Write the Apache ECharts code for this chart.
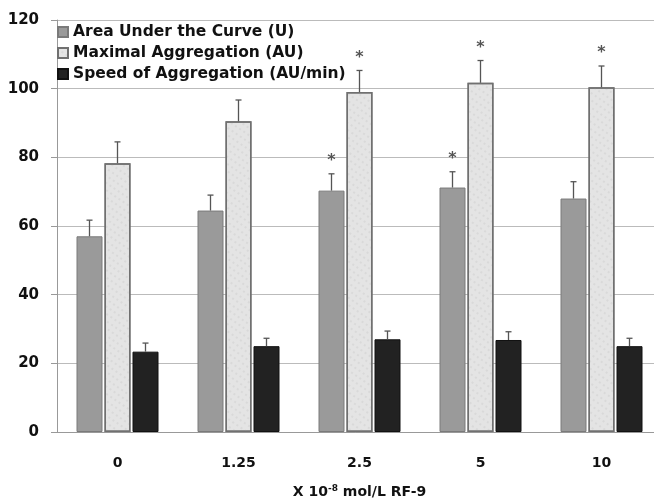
<!DOCTYPE html>
<html>
<head>
<meta charset="utf-8">
<script src="https://cdn.jsdelivr.net/npm/echarts@6/dist/echarts.min.js"></script>
<style>
  html, body { margin: 0; padding: 0; background: #fff; }
  #main { width: 654px; height: 500px; }
</style>
</head>
<body>
<div id="main"></div>
<script>
var categories = ['0', '1.25', '2.5', '5', '10'];
var seriesNames = ['Area Under the Curve (U)', 'Maximal Aggregation (AU)', 'Speed of Aggregation (AU/min)'];

var areaMean = [57, 64.5, 70.3, 71.2, 68];
var areaErr = [4.7, 4.5, 4.9, 4.6, 4.9];
var areaStar = [0, 0, 1, 1, 0];

var maxMean = [78.3, 90.5, 99, 101.7, 100.4];
var maxErr = [6.2, 6.2, 6.3, 6.5, 6.2];
var maxStar = [0, 0, 1, 1, 1];

var speedMean = [23.4, 25, 27, 26.8, 25];
var speedErr = [2.5, 2.3, 2.4, 2.4, 2.3];
var speedStar = [0, 0, 0, 0, 0];

var barW = 26;
var barGapPx = 2;
var FONT = 'DejaVu Sans';

function errData(mean, err, star) {
  return mean.map(function (m, i) { return [i, m, err[i], star[i]]; });
}

function errSeries(idx, mean, err, star) {
  return {
    type: 'custom',
    silent: true,
    z: 5,
    data: errData(mean, err, star),
    renderItem: function (params, api) {
      var ci = api.value(0);
      var m = api.value(1);
      var e = api.value(2);
      var s = api.value(3);
      var base = api.coord([ci, m]);
      var top = api.coord([ci, m + e]);
      var x = base[0] + (idx - 1) * (barW + barGapPx);
      var children = [
        { type: 'line', shape: { x1: x, y1: base[1], x2: x, y2: top[1] }, style: { stroke: '#555', lineWidth: 1.3 } },
        { type: 'line', shape: { x1: x - 3, y1: top[1], x2: x + 3, y2: top[1] }, style: { stroke: '#555', lineWidth: 1.3 } }
      ];
      if (s) {
        children.push({
          type: 'text',
          style: { x: x, y: top[1] - 5, text: '*', fill: '#555', font: 'bold 16px ' + FONT, align: 'center', verticalAlign: 'bottom' }
        });
      }
      return { type: 'group', children: children };
    }
  };
}

var chart = echarts.init(document.getElementById('main'));

var option = {
  animation: false,
  backgroundColor: '#fff',
  grid: { left: 57, right: -8, top: 20, bottom: 68, containLabel: false, outerBoundsMode: 'none' },
  legend: {
    orient: 'vertical',
    left: 52,
    top: 19,
    itemWidth: 10,
    itemHeight: 10,
    itemGap: 5,
    icon: 'rect',
    data: seriesNames,
    textStyle: { fontFamily: FONT, fontWeight: 'bold', fontSize: 15.5, color: '#111', padding: [0, 0, 0, 0] }
  },
  xAxis: {
    type: 'category',
    data: categories,
    axisLine: { lineStyle: { color: '#999' } },
    axisTick: { show: false },
    axisLabel: { fontFamily: FONT, fontWeight: 'bold', fontSize: 14, color: '#111', margin: 24 },
    name: '{a|X 10}{s|-8}{a| mol/L RF-9}',
    nameLocation: 'middle',
    nameGap: 52,
    nameTextStyle: {
      rich: {
        a: { fontFamily: FONT, fontWeight: 'bold', fontSize: 14, color: '#111' },
        s: { fontFamily: FONT, fontWeight: 'bold', fontSize: 9, color: '#111', verticalAlign: 'top', padding: [0, 0, 8, 0] }
      }
    }
  },
  yAxis: {
    type: 'value',
    min: 0,
    max: 120,
    interval: 20,
    axisLine: { show: true, lineStyle: { color: '#999' } },
    axisTick: { show: true, length: 6, lineStyle: { color: '#999' } },
    splitLine: { lineStyle: { color: '#bbb' } },
    axisLabel: { fontFamily: FONT, fontWeight: 'bold', fontSize: 15, color: '#111', margin: 18 }
  },
  series: [
    {
      name: seriesNames[0], type: 'bar', data: areaMean, barWidth: barW, barGap: (barGapPx / barW * 100) + '%',
      itemStyle: { color: '#9a9a9a', borderColor: '#7a7a7a', borderWidth: 1 }
    },
    {
      name: seriesNames[1], type: 'bar', data: maxMean, barWidth: barW,
      itemStyle: {
        color: '#e4e4e4', borderColor: '#707070', borderWidth: 1.5,
        decal: { symbol: 'circle', symbolSize: 0.7, color: 'rgba(185,185,185,0.7)', dashArrayX: [2, 3], dashArrayY: [2, 4], rotation: 0.6 }
      }
    },
    {
      name: seriesNames[2], type: 'bar', data: speedMean, barWidth: barW,
      itemStyle: { color: '#222', borderColor: '#111', borderWidth: 1 }
    },
    errSeries(0, areaMean, areaErr, areaStar),
    errSeries(1, maxMean, maxErr, maxStar),
    errSeries(2, speedMean, speedErr, speedStar)
  ]
};

chart.setOption(option);
</script>
</body>
</html>
